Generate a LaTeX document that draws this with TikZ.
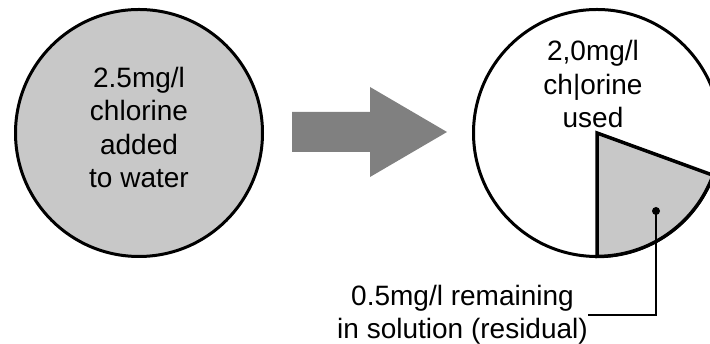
\documentclass[tikz,border=0pt]{standalone}
\usepackage{fontspec}
\setmainfont{Liberation Sans}
\usetikzlibrary{positioning,calc}
\definecolor{dosegrey}{HTML}{C8C8C8}
\definecolor{arrowgrey}{HTML}{808080}

\begin{document}
\begin{tikzpicture}[x=1pt, y=1pt,
    tank/.style={circle, draw=black, line width=3pt, inner sep=0pt,
                 minimum size=247pt},
    txt/.style={align=center, font=\fontsize{28}{33.5}\selectfont,
                inner sep=0pt}]
  \useasboundingbox (0,0) rectangle (710,344);

  %% Chlorine added to water (full dose)
  \node[tank, fill=dosegrey] (added) at (139,211) {};
  \node[txt] (addedtext) at (139,216.5)
    {2.5mg/l\\chlorine\\added\\to water};

  %% Block arrow between the two circles
  \fill[arrowgrey] (292,192) -- (370,192) -- (370,167) -- (447,212)
    -- (370,257) -- (370,232) -- (292,232) -- cycle;

  %% Chlorine used, with residual wedge
  \node[tank, fill=white] (used) at (597,211) {};
  \filldraw[fill=dosegrey, line width=3.5pt, line join=miter]
    (used.center) -- ++(-90:123.5) arc (-90:-20:123.5) -- cycle;
  \node[txt] (usedtext) at (593,259.5) {2,0mg/l\\ch|orine\\used};

  %% Residual leader
  \fill (656,133) circle (4pt);
  \coordinate (dot) at (656,133);
  \node[txt, anchor=east] (residual) at (588,29)
    {0.5mg/l remaining\\in solution (residual)};
  \draw[line width=2pt] (dot) |- (residual.east);
\end{tikzpicture}
\end{document}
